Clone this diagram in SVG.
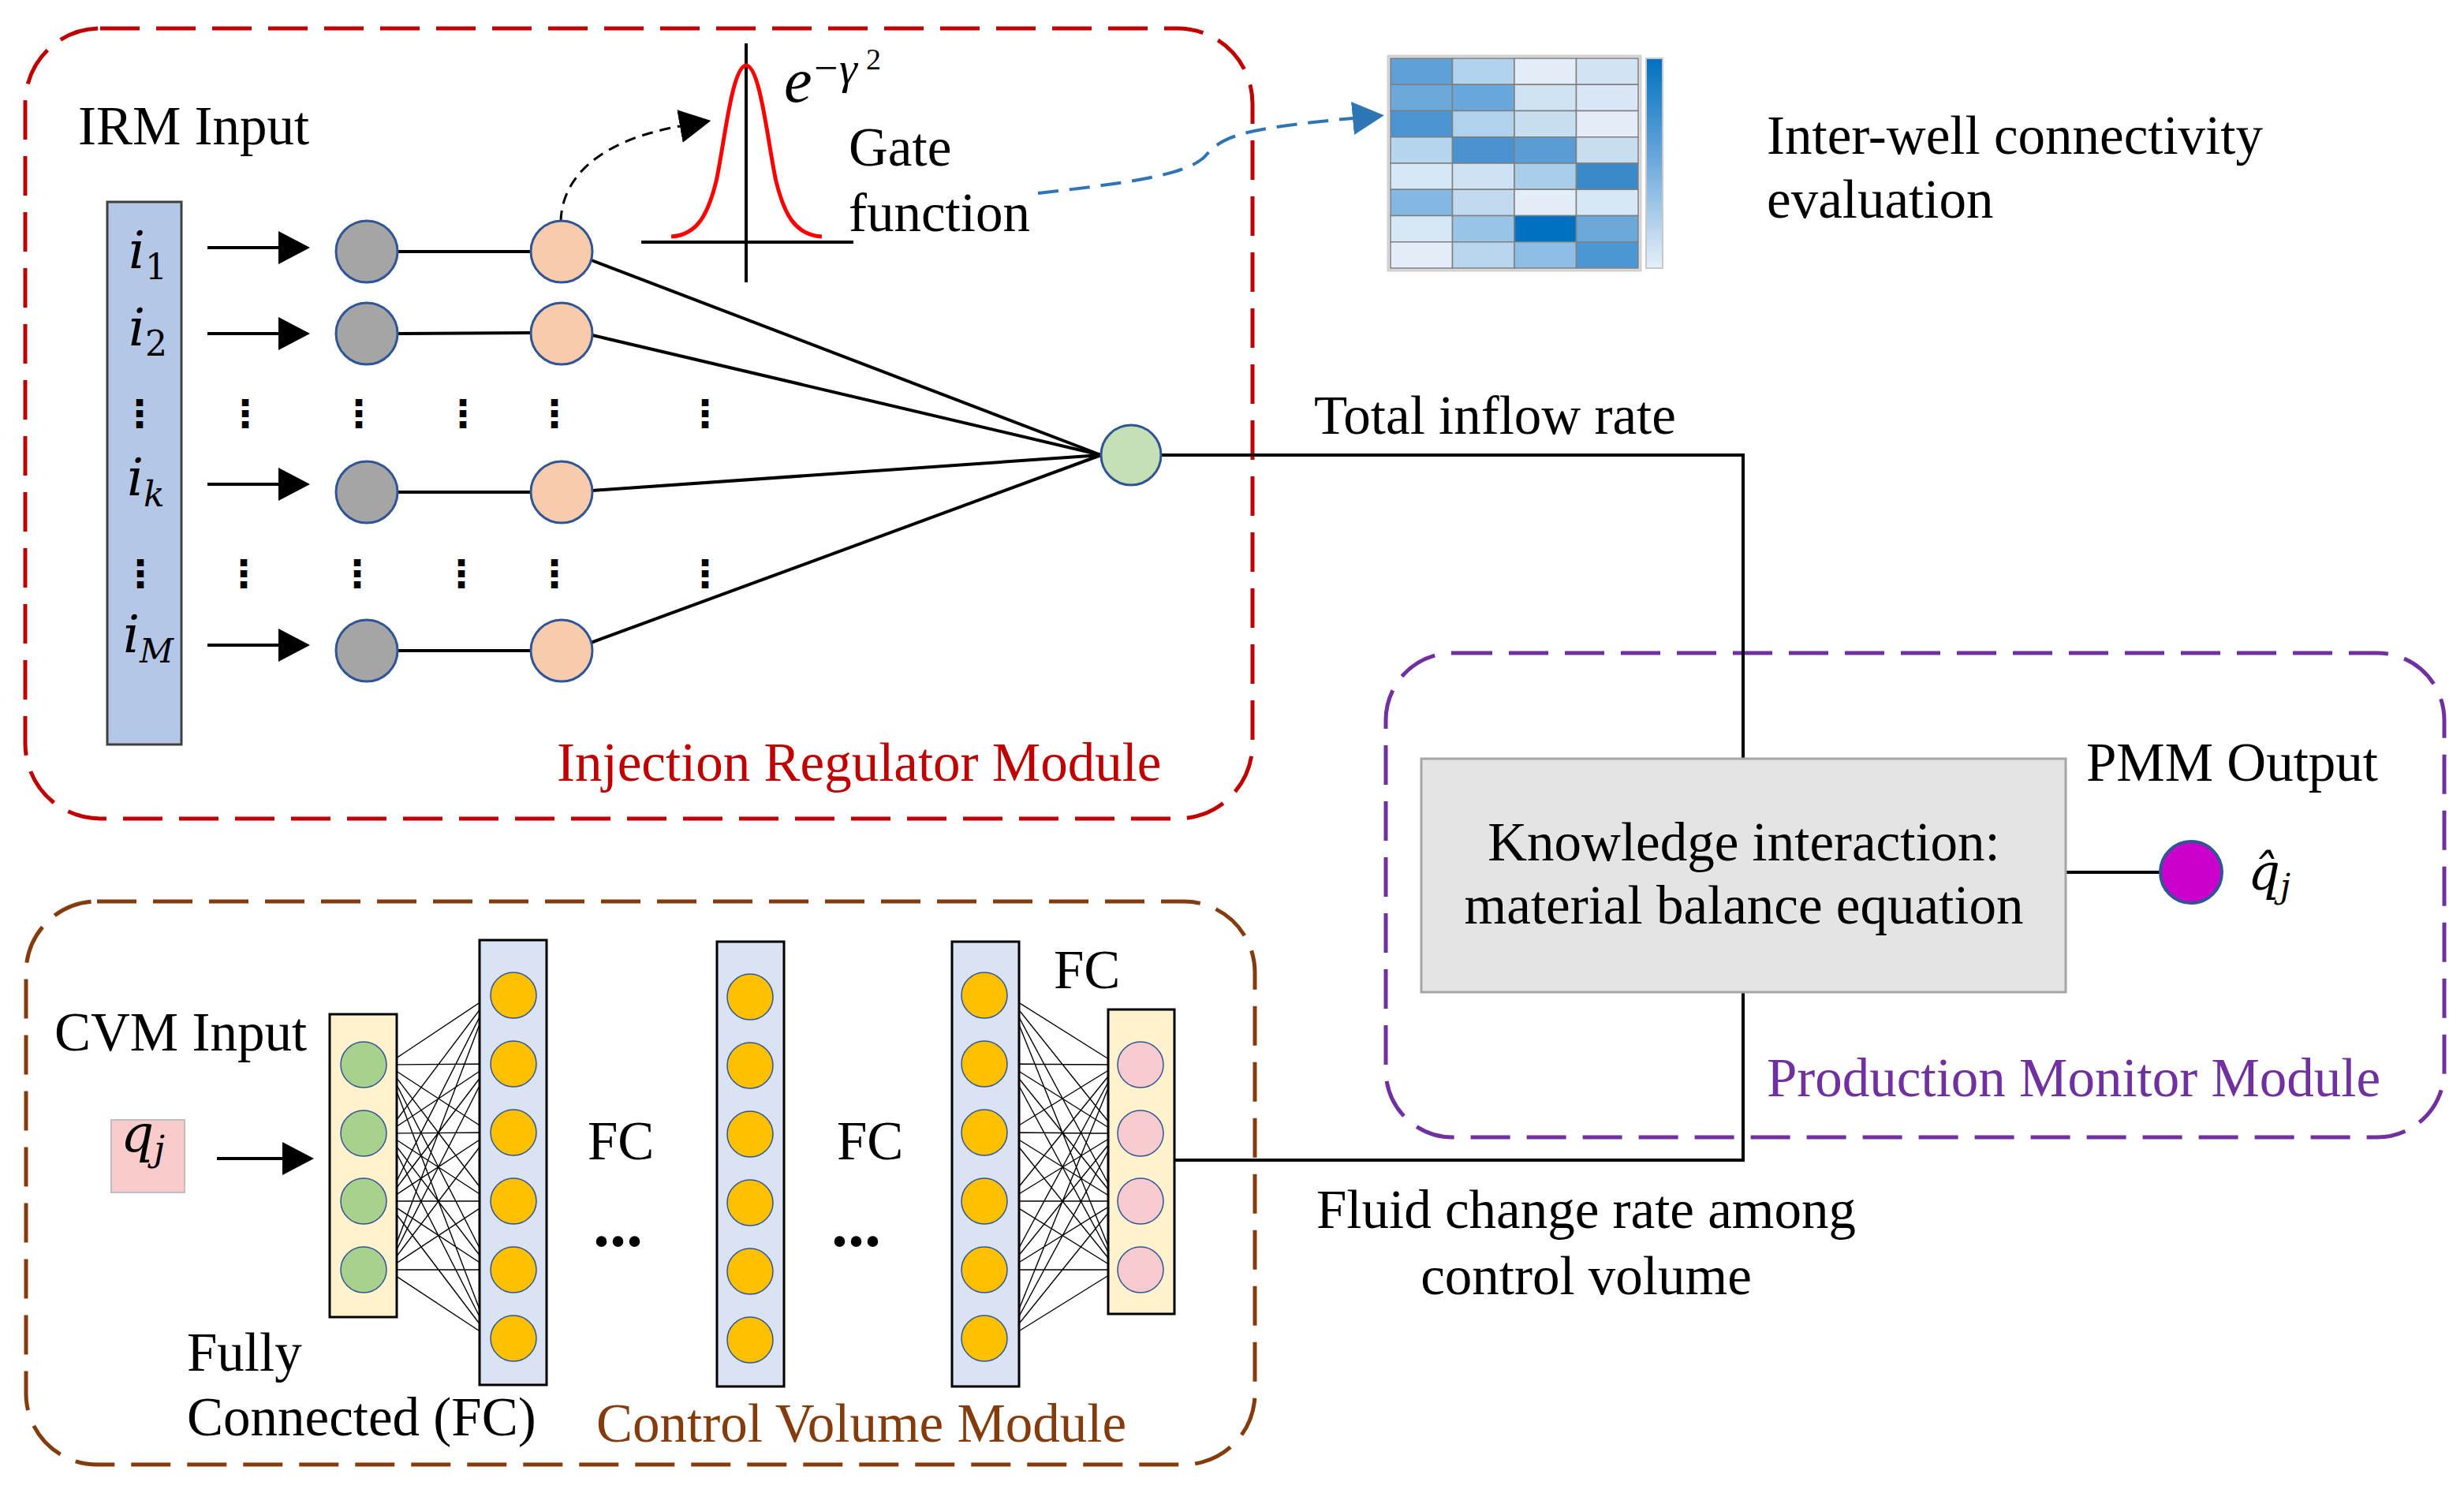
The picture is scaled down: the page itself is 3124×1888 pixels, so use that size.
<svg xmlns="http://www.w3.org/2000/svg" width="3124" height="1888" viewBox="0 0 3124 1888" font-size="69">
<defs>
<style>
text{font-family:"Liberation Serif","Times New Roman",serif;fill:#000}
.m{font-style:italic;font-family:"DejaVu Serif","Liberation Serif",serif}
.e{font-style:italic;font-family:"Liberation Serif","DejaVu Serif",serif}
.up{font-style:normal}
.box{fill:none;stroke-width:5;stroke-dasharray:50 21}
.ln{stroke:#000;stroke-width:4;fill:none}
.thin{stroke:#000;stroke-width:1.4;fill:none}
.gray{fill:#A5A5A5;stroke:#2F5597;stroke-width:3}
.peach{fill:#F8CBAD;stroke:#2F5597;stroke-width:3}
.yel{fill:#FFC000;stroke:#2F5597;stroke-width:1.5}
.grn{fill:#A9D18E;stroke:#2F5597;stroke-width:1.5}
.pnk{fill:#F8CBCF;stroke:#2F5597;stroke-width:1.5}
.lb{fill:#DAE3F3;stroke:#000;stroke-width:3}
.ly{fill:#FFF2CC;stroke:#000;stroke-width:3}
.vd{font-family:"DejaVu Sans",sans-serif;font-size:48px;font-weight:bold;text-anchor:middle}
.dots{font-weight:bold;font-size:84px}
.hm rect{stroke:#7F7F7F;stroke-width:1.5}
</style>
<marker id="ah" markerUnits="userSpaceOnUse" markerWidth="40" markerHeight="42" viewBox="0 0 40 42" refX="0" refY="21" orient="auto"><path d="M0,0 L40,21 L0,42 Z" fill="#000"/></marker>
<marker id="ahb" markerUnits="userSpaceOnUse" markerWidth="40" markerHeight="42" viewBox="0 0 40 42" refX="0" refY="21" orient="auto"><path d="M0,0 L40,21 L0,42 Z" fill="#2E75B6"/></marker>
<linearGradient id="cb" x1="0" y1="0" x2="0" y2="1"><stop offset="0" stop-color="#0070C0"/><stop offset="0.5" stop-color="#6FAADC"/><stop offset="1" stop-color="#E6F0F9"/></linearGradient>
</defs>
<rect width="3124" height="1888" fill="#fff"/>

<!-- module frames -->
<g id="irm-module">
<rect class="box" x="32" y="36" width="1556" height="1002" rx="95" stroke="#C00000"/>
<text x="706" y="990" style="fill:#C00000">Injection Regulator Module</text>
</g>
<g id="pmm-module">
<rect class="box" x="1757" y="828" width="1342" height="614" rx="85" stroke="#7030A0"/>
<text x="2240" y="1390" style="fill:#7030A0">Production Monitor Module</text>
</g>
<g id="cvm-module">
<rect class="box" x="33" y="1143" width="1558" height="714" rx="90" stroke="#843C0C"/>
<text x="756" y="1828" style="fill:#843C0C">Control Volume Module</text>
</g>

<!-- connectors -->
<g id="connectors">
<g class="ln">
<line x1="263" y1="314" x2="353" y2="314" marker-end="url(#ah)"/>
<line x1="263" y1="423" x2="353" y2="423" marker-end="url(#ah)"/>
<line x1="263" y1="614" x2="353" y2="614" marker-end="url(#ah)"/>
<line x1="263" y1="818" x2="353" y2="818" marker-end="url(#ah)"/>
<line x1="504" y1="319" x2="673" y2="319"/>
<line x1="504" y1="423" x2="673" y2="422"/>
<line x1="504" y1="624" x2="673" y2="624"/>
<line x1="504" y1="825" x2="673" y2="825"/>
<line x1="750" y1="330" x2="1396" y2="577"/>
<line x1="751" y1="425" x2="1396" y2="577"/>
<line x1="751" y1="622" x2="1396" y2="577"/>
<line x1="749" y1="815" x2="1396" y2="577"/>
<polyline points="1472,577 2210,577 2210,962"/>
<line x1="2619" y1="1106" x2="2739" y2="1106"/>
<polyline points="1489,1471 2210,1471 2210,1258"/>
<line x1="275" y1="1469" x2="358" y2="1469" marker-end="url(#ah)"/>
</g>
<path d="M711,281 C712,225 760,178 862,160" fill="none" stroke="#000" stroke-width="3" stroke-dasharray="14 9" marker-end="url(#ah)"/>
<path d="M1316,245 C1430,232 1505,222 1528,198 C1550,172 1575,163 1715,150" fill="none" stroke="#2E75B6" stroke-width="4" stroke-dasharray="26 14" marker-end="url(#ahb)"/>
<path class="thin" d="M490 1350L622 1262M490 1350L622 1349M490 1350L622 1436M490 1350L622 1523M490 1350L622 1610M490 1350L622 1697M490 1437L622 1262M490 1437L622 1349M490 1437L622 1436M490 1437L622 1523M490 1437L622 1610M490 1437L622 1697M490 1523L622 1262M490 1523L622 1349M490 1523L622 1436M490 1523L622 1523M490 1523L622 1610M490 1523L622 1697M490 1610L622 1262M490 1610L622 1349M490 1610L622 1436M490 1610L622 1523M490 1610L622 1610M490 1610L622 1697"/>
<path class="thin" d="M1277 1262L1417 1350M1277 1262L1417 1437M1277 1262L1417 1523M1277 1262L1417 1610M1277 1349L1417 1350M1277 1349L1417 1437M1277 1349L1417 1523M1277 1349L1417 1610M1277 1436L1417 1350M1277 1436L1417 1437M1277 1436L1417 1523M1277 1436L1417 1610M1277 1523L1417 1350M1277 1523L1417 1437M1277 1523L1417 1523M1277 1523L1417 1610M1277 1610L1417 1350M1277 1610L1417 1437M1277 1610L1417 1523M1277 1610L1417 1610M1277 1697L1417 1350M1277 1697L1417 1437M1277 1697L1417 1523M1277 1697L1417 1610"/>
</g>

<!-- IRM nodes -->
<g id="irm-input">
<text x="99" y="183">IRM Input</text>
<rect x="136" y="256" width="94" height="688" fill="#B4C7E7" stroke="#404040" stroke-width="3"/>
<text class="m" x="163" y="340" font-size="66">i<tspan class="up" font-size="44" dy="14">1</tspan></text>
<text class="m" x="163" y="438" font-size="66">i<tspan class="up" font-size="44" dy="13">2</tspan></text>
<text class="m" x="161" y="628" font-size="66">i<tspan font-size="44" dy="14">k</tspan></text>
<text class="m" x="156" y="827" font-size="66">i<tspan font-size="42" dy="13">M</tspan></text>
</g>
<g id="ellipsis-rows">
<text class="vd" x="177" y="541">⋮</text>
<text class="vd" x="311" y="541">⋮</text>
<text class="vd" x="455" y="541">⋮</text>
<text class="vd" x="587" y="541">⋮</text>
<text class="vd" x="703" y="541">⋮</text>
<text class="vd" x="894" y="541">⋮</text>
<text class="vd" x="178" y="744">⋮</text>
<text class="vd" x="309" y="744">⋮</text>
<text class="vd" x="453" y="744">⋮</text>
<text class="vd" x="585" y="744">⋮</text>
<text class="vd" x="703" y="744">⋮</text>
<text class="vd" x="894" y="744">⋮</text>
</g>
<g id="irm-gray-nodes">
<circle class="gray" cx="465" cy="319" r="39"/>
<circle class="gray" cx="465" cy="423" r="39"/>
<circle class="gray" cx="465" cy="624" r="39"/>
<circle class="gray" cx="465" cy="825" r="39"/>
</g>
<g id="irm-gate-nodes">
<circle class="peach" cx="712" cy="319" r="39"/>
<circle class="peach" cx="712" cy="423" r="39"/>
<circle class="peach" cx="712" cy="624" r="39"/>
<circle class="peach" cx="712" cy="825" r="39"/>
</g>
<g id="irm-sum-node">
<circle cx="1434" cy="577" r="38" fill="#C5E0B4" stroke="#2F5597" stroke-width="3"/>
</g>
<g id="gate-function">
<line x1="946" y1="55" x2="946" y2="358" stroke="#000" stroke-width="4"/>
<line x1="813" y1="307" x2="1082" y2="307" stroke="#000" stroke-width="4"/>
<path d="M851,300 C885,298 898,270 908,230 C918,185 928,83 946,83 C964,83 974,185 984,230 C994,270 1007,298 1042,300" fill="none" stroke="#FF0000" stroke-width="5"/>
<text class="e" font-size="80"><tspan x="994" y="129">e</tspan><tspan class="up" x="1032" y="104" font-size="54">−</tspan><tspan x="1064" y="106" font-size="58">γ</tspan><tspan class="up" x="1098" y="88" font-size="38">2</tspan></text>
<text x="1076" y="210">Gate</text>
<text x="1076" y="293">function</text>
</g>
<g id="heatmap" class="hm">
<rect x="1760" y="71" width="320" height="272" fill="#EDEDED" style="stroke:#D0D0D0;stroke-width:3"/>
<rect x="1763" y="74" width="78.5" height="33.25" fill="#5FA0D6"/>
<rect x="1841.5" y="74" width="78.5" height="33.25" fill="#B0D2EC"/>
<rect x="1920" y="74" width="78.5" height="33.25" fill="#E4EEF8"/>
<rect x="1998.5" y="74" width="78.5" height="33.25" fill="#D2E4F3"/>
<rect x="1763" y="107.25" width="78.5" height="33.25" fill="#6CA9DB"/>
<rect x="1841.5" y="107.25" width="78.5" height="33.25" fill="#68A7DB"/>
<rect x="1920" y="107.25" width="78.5" height="33.25" fill="#D0E3F3"/>
<rect x="1998.5" y="107.25" width="78.5" height="33.25" fill="#DAE8F5"/>
<rect x="1763" y="140.5" width="78.5" height="33.25" fill="#4C94D1"/>
<rect x="1841.5" y="140.5" width="78.5" height="33.25" fill="#B0D2EC"/>
<rect x="1920" y="140.5" width="78.5" height="33.25" fill="#C8DEF1"/>
<rect x="1998.5" y="140.5" width="78.5" height="33.25" fill="#E2EDF8"/>
<rect x="1763" y="173.75" width="78.5" height="33.25" fill="#B6D5EE"/>
<rect x="1841.5" y="173.75" width="78.5" height="33.25" fill="#4A93D0"/>
<rect x="1920" y="173.75" width="78.5" height="33.25" fill="#5A9DD5"/>
<rect x="1998.5" y="173.75" width="78.5" height="33.25" fill="#C8DEF0"/>
<rect x="1763" y="207" width="78.5" height="33.25" fill="#D6E7F5"/>
<rect x="1841.5" y="207" width="78.5" height="33.25" fill="#CFE2F3"/>
<rect x="1920" y="207" width="78.5" height="33.25" fill="#A9CEEA"/>
<rect x="1998.5" y="207" width="78.5" height="33.25" fill="#3A8ACB"/>
<rect x="1763" y="240.25" width="78.5" height="33.25" fill="#84B8E2"/>
<rect x="1841.5" y="240.25" width="78.5" height="33.25" fill="#C2DAEF"/>
<rect x="1920" y="240.25" width="78.5" height="33.25" fill="#E4EEF8"/>
<rect x="1998.5" y="240.25" width="78.5" height="33.25" fill="#D8E7F5"/>
<rect x="1763" y="273.5" width="78.5" height="33.25" fill="#D6E7F5"/>
<rect x="1841.5" y="273.5" width="78.5" height="33.25" fill="#98C4E7"/>
<rect x="1920" y="273.5" width="78.5" height="33.25" fill="#0070C0"/>
<rect x="1998.5" y="273.5" width="78.5" height="33.25" fill="#6AA8DA"/>
<rect x="1763" y="306.75" width="78.5" height="33.25" fill="#E3EEF8"/>
<rect x="1841.5" y="306.75" width="78.5" height="33.25" fill="#B8D6EE"/>
<rect x="1920" y="306.75" width="78.5" height="33.25" fill="#8EBEE4"/>
<rect x="1998.5" y="306.75" width="78.5" height="33.25" fill="#4C96D2"/>
<rect x="2087" y="74" width="21" height="266" fill="url(#cb)" style="stroke:#C8C8C8;stroke-width:2"/>
</g>
<g id="connectivity-label">
<text x="2240" y="195">Inter-well connectivity</text>
<text x="2240" y="276">evaluation</text>
</g>
<g id="total-inflow-label">
<text x="1666" y="550">Total inflow rate</text>
</g>

<!-- PMM nodes -->
<g id="knowledge-box">
<rect x="1802" y="962" width="817" height="296" fill="#E4E4E4" stroke="#A6A6A6" stroke-width="3"/>
<text x="2211" y="1091" text-anchor="middle">Knowledge interaction:</text>
<text x="2211" y="1171" text-anchor="middle">material balance equation</text>
</g>
<g id="pmm-output">
<text x="2645" y="990">PMM Output</text>
<circle cx="2778" cy="1106" r="39" fill="#CC00CC" stroke="#2F5597" stroke-width="4"/>
<text class="m" x="2850" y="1128" font-size="64">q̂<tspan font-size="42" dy="10">j</tspan></text>
</g>
<g id="fluid-label">
<text x="2011" y="1557" text-anchor="middle">Fluid change rate among</text>
<text x="2011" y="1641" text-anchor="middle">control volume</text>
</g>

<!-- CVM nodes -->
<g id="cvm-input">
<text x="69" y="1332">CVM Input</text>
<rect x="141" y="1420" width="93" height="92" fill="#F9CBCB" stroke="#BFBFBF" stroke-width="2"/>
<text class="m" x="153" y="1460" font-size="66">q<tspan font-size="44" dy="12">j</tspan></text>
</g>
<g id="cvm-layer-in">
<rect class="ly" x="418" y="1286" width="85" height="384"/>
<circle class="grn" cx="461" cy="1350" r="29"/>
<circle class="grn" cx="461" cy="1437" r="29"/>
<circle class="grn" cx="461" cy="1523" r="29"/>
<circle class="grn" cx="461" cy="1610" r="29"/>
</g>
<g id="cvm-hidden-1">
<rect class="lb" x="608" y="1192" width="85" height="564"/>
<circle class="yel" cx="651" cy="1262" r="29"/>
<circle class="yel" cx="651" cy="1349" r="29"/>
<circle class="yel" cx="651" cy="1436" r="29"/>
<circle class="yel" cx="651" cy="1523" r="29"/>
<circle class="yel" cx="651" cy="1610" r="29"/>
<circle class="yel" cx="651" cy="1697" r="29"/>
</g>
<g id="cvm-hidden-2">
<rect class="lb" x="909" y="1194" width="85" height="564"/>
<circle class="yel" cx="951" cy="1264" r="29"/>
<circle class="yel" cx="951" cy="1351" r="29"/>
<circle class="yel" cx="951" cy="1438" r="29"/>
<circle class="yel" cx="951" cy="1525" r="29"/>
<circle class="yel" cx="951" cy="1612" r="29"/>
<circle class="yel" cx="951" cy="1699" r="29"/>
</g>
<g id="cvm-hidden-3">
<rect class="lb" x="1207" y="1194" width="85" height="564"/>
<circle class="yel" cx="1248" cy="1262" r="29"/>
<circle class="yel" cx="1248" cy="1349" r="29"/>
<circle class="yel" cx="1248" cy="1436" r="29"/>
<circle class="yel" cx="1248" cy="1523" r="29"/>
<circle class="yel" cx="1248" cy="1610" r="29"/>
<circle class="yel" cx="1248" cy="1697" r="29"/>
</g>
<g id="cvm-layer-out">
<rect class="ly" x="1405" y="1280" width="84" height="386"/>
<circle class="pnk" cx="1446" cy="1350" r="29"/>
<circle class="pnk" cx="1446" cy="1437" r="29"/>
<circle class="pnk" cx="1446" cy="1523" r="29"/>
<circle class="pnk" cx="1446" cy="1610" r="29"/>
</g>
<g id="cvm-labels">
<text x="745" y="1470">FC</text>
<text x="1061" y="1470">FC</text>
<text x="1336" y="1253">FC</text>
<text class="dots" x="752" y="1580">...</text>
<text class="dots" x="1054" y="1580">...</text>
<text x="237" y="1738">Fully</text>
<text x="237" y="1820">Connected (FC)</text>
</g>
</svg>
